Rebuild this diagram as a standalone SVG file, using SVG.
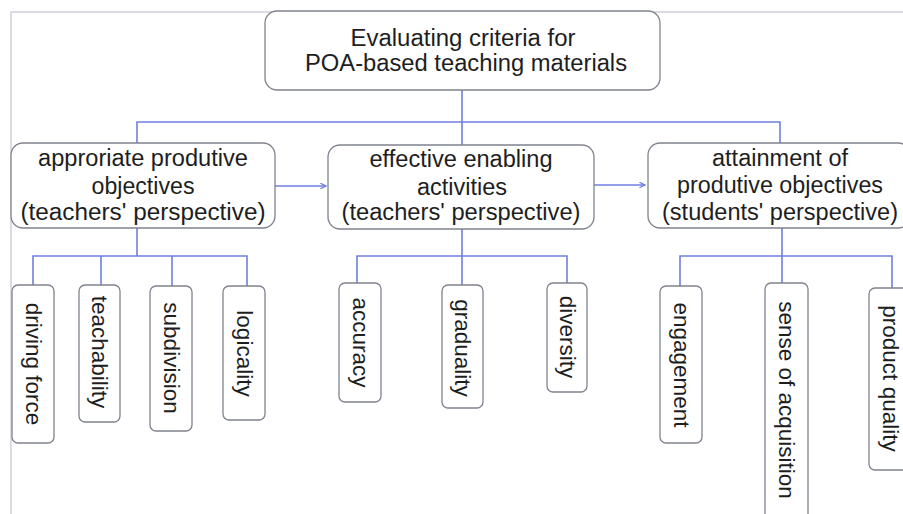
<svg xmlns="http://www.w3.org/2000/svg" width="903" height="514" viewBox="0 0 903 514">
<style>
.box{fill:#ffffff;stroke:#80838f;stroke-width:1.3}
.lbl{font-family:"Liberation Sans",Arial,sans-serif;font-size:23.5px;fill:#1e1e1e;text-anchor:middle}
.vl{font-family:"Liberation Sans",Arial,sans-serif;font-size:22.5px;fill:#1e1e1e;text-anchor:middle;dominant-baseline:central}
.con{fill:none;stroke:#6f7fe0;stroke-width:1.6}
.frame{fill:none;stroke:#cfd0da;stroke-width:1.5}
</style>
<defs>
<marker id="ah" viewBox="0 0 10 10" refX="9" refY="5" markerWidth="7" markerHeight="7" markerUnits="userSpaceOnUse" orient="auto">
<path d="M1,1 L9,5 L1,9" fill="none" stroke="#6f7fe0" stroke-width="1.8"/>
</marker>
</defs>
<rect x="0" y="0" width="903" height="514" fill="#ffffff"/>
<path class="frame" d="M11,514 V12 H903"/>
<g id="connectors">
<path class="con" d="M462,90 V145"/>
<path class="con" d="M137,143 V122 H780 V143"/>
<path class="con" d="M275,186 H326" marker-end="url(#ah)"/>
<path class="con" d="M594,185 H645" marker-end="url(#ah)"/>
<path class="con" d="M137,228 V256"/>
<path class="con" d="M33,285 V256 H247 V286"/>
<path class="con" d="M101,256 V285"/>
<path class="con" d="M172,256 V286"/>
<path class="con" d="M462,229 V285"/>
<path class="con" d="M357,283 V256 H567 V283"/>
<path class="con" d="M782,228 V283"/>
<path class="con" d="M680,286 V256 H892 V288"/>
</g>
<g id="root">
<rect class="box" x="265" y="11" width="395" height="79" rx="12"/>
<text class="lbl" x="463" y="46" textLength="225" lengthAdjust="spacingAndGlyphs">Evaluating criteria for</text>
<text class="lbl" x="466" y="71" textLength="322" lengthAdjust="spacingAndGlyphs">POA-based teaching materials</text>
</g>
<g id="n-objectives">
<rect class="box" x="11" y="143" width="264" height="85" rx="12"/>
<text class="lbl" x="143" y="166" textLength="210" lengthAdjust="spacingAndGlyphs">approriate produtive</text>
<text class="lbl" x="143" y="194" textLength="103" lengthAdjust="spacingAndGlyphs">objectives</text>
<text class="lbl" x="143" y="220" textLength="245" lengthAdjust="spacingAndGlyphs">(teachers' perspective)</text>
</g>
<g id="n-activities">
<rect class="box" x="328" y="145" width="266" height="84" rx="12"/>
<text class="lbl" x="461" y="167" textLength="183" lengthAdjust="spacingAndGlyphs">effective enabling</text>
<text class="lbl" x="462" y="195" textLength="90" lengthAdjust="spacingAndGlyphs">activities</text>
<text class="lbl" x="461" y="220" textLength="239" lengthAdjust="spacingAndGlyphs">(teachers' perspective)</text>
</g>
<g id="n-attainment">
<rect class="box" x="648" y="143" width="262" height="85" rx="12"/>
<text class="lbl" x="780" y="166" textLength="136" lengthAdjust="spacingAndGlyphs">attainment of</text>
<text class="lbl" x="780" y="193" textLength="206" lengthAdjust="spacingAndGlyphs">produtive objectives</text>
<text class="lbl" x="780" y="220" textLength="236" lengthAdjust="spacingAndGlyphs">(students' perspective)</text>
</g>
<g id="n-driving">
<rect class="box" x="12" y="285" width="42" height="158" rx="6"/>
<text class="vl" transform="translate(33,364) rotate(90)">driving force</text>
</g>
<g id="n-teachability">
<rect class="box" x="79" y="285" width="41" height="137" rx="6"/>
<text class="vl" transform="translate(99.5,352) rotate(90)">teachability</text>
</g>
<g id="n-subdivision">
<rect class="box" x="150" y="286" width="42" height="145" rx="6"/>
<text class="vl" transform="translate(171,358) rotate(90)">subdivision</text>
</g>
<g id="n-logicality">
<rect class="box" x="223" y="286" width="42" height="134" rx="6"/>
<text class="vl" transform="translate(244,353.5) rotate(90)">logicality</text>
</g>
<g id="n-accuracy">
<rect class="box" x="339" y="283" width="42" height="119" rx="6"/>
<text class="vl" transform="translate(360,342.5) rotate(90)">accuracy</text>
</g>
<g id="n-graduality">
<rect class="box" x="442" y="285" width="41" height="123" rx="6"/>
<text class="vl" transform="translate(462.5,348) rotate(90)">graduality</text>
</g>
<g id="n-diversity">
<rect class="box" x="547" y="283" width="40" height="109" rx="6"/>
<text class="vl" transform="translate(567,337) rotate(90)">diversity</text>
</g>
<g id="n-engagement">
<rect class="box" x="660" y="286" width="42" height="157" rx="6"/>
<text class="vl" transform="translate(681,365) rotate(90)">engagement</text>
</g>
<g id="n-acquisition">
<rect class="box" x="765" y="283" width="43" height="245" rx="6"/>
<text class="vl" transform="translate(786.5,400) rotate(90)">sense of acquisition</text>
</g>
<g id="n-product">
<rect class="box" x="869" y="288" width="44" height="182" rx="6"/>
<text class="vl" transform="translate(890,378.5) rotate(90)">product quality</text>
</g>
</svg>
